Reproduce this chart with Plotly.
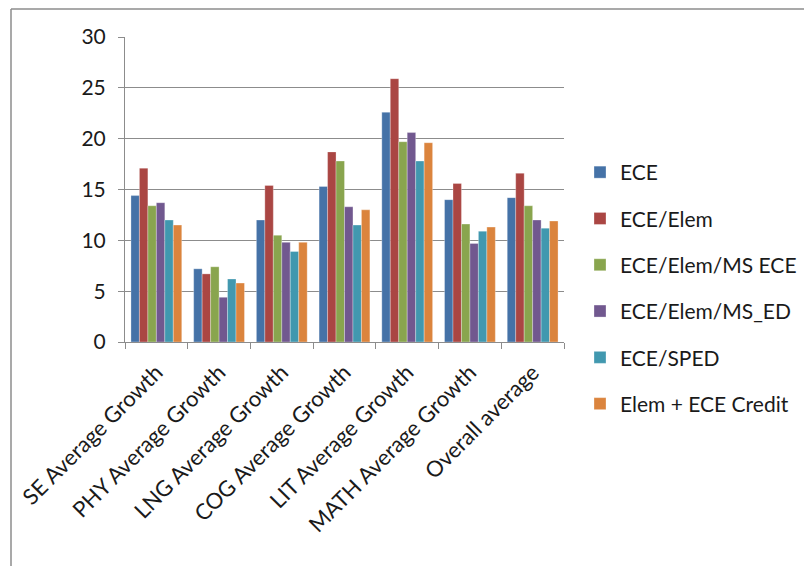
import plotly.graph_objects as go

categories = ["SE Average Growth", "PHY Average Growth", "LNG Average Growth",
              "COG Average Growth", "LIT Average Growth", "MATH Average Growth",
              "Overall average"]

series_names = ["ECE", "ECE/Elem", "ECE/Elem/MS ECE", "ECE/Elem/MS_ED",
                "ECE/SPED", "Elem + ECE Credit"]

ece = [14.4, 7.2, 12.0, 15.3, 22.6, 14.0, 14.2]
ece_elem = [17.1, 6.7, 15.4, 18.7, 25.9, 15.6, 16.6]
ece_elem_ms_ece = [13.4, 7.4, 10.5, 17.8, 19.7, 11.6, 13.4]
ece_elem_ms_ed = [13.7, 4.4, 9.8, 13.3, 20.6, 9.7, 12.0]
ece_sped = [12.0, 6.2, 8.9, 11.5, 17.8, 10.9, 11.2]
elem_ece_credit = [11.5, 5.8, 9.8, 13.0, 19.6, 11.3, 11.9]

colors = ["#4572A7", "#AA4643", "#89A54E", "#71588F", "#4198AF", "#DB843D"]

all_values = [ece, ece_elem, ece_elem_ms_ece, ece_elem_ms_ed, ece_sped, elem_ece_credit]

FONT = "Lato"
W, H = 804, 566
L, R, T, B = 125, 240, 37, 224
pw = W - L - R
ph = H - T - B

fig = go.Figure()
for name, vals, col in zip(series_names, all_values, colors):
    fig.add_trace(go.Bar(
        x=categories, y=vals, name=name, legendgroup=name,
        marker=dict(color=col, line=dict(width=0.6, color="rgba(255,255,255,0.5)")),
    ))

fig.update_layout(
    width=W, height=H,
    margin=dict(l=L, r=R, t=T, b=B, autoexpand=False),
    paper_bgcolor="white", plot_bgcolor="white",
    barmode="group", bargap=0.19, bargroupgap=0,
    font=dict(family=FONT, size=20, color="#1a1a1a"),
    legend=dict(xref="container", yref="container",
                x=580 / W, xanchor="left", y=1 - 288 / H, yanchor="middle",
                font=dict(family=FONT, size=21, color="#1a1a1a"),
                tracegroupgap=16, itemwidth=30, bgcolor="rgba(0,0,0,0)"),
    showlegend=True,
)
fig.update_yaxes(range=[0, 30], dtick=5, showgrid=True, gridcolor="#8c8c8c",
                 gridwidth=1, showline=True, linecolor="#8c8c8c", linewidth=1,
                 ticks="outside", ticklen=6, tickcolor="#8c8c8c",
                 ticklabelstandoff=8,
                 tickfont=dict(size=21), zeroline=False, fixedrange=True)
fig.update_xaxes(showline=True, linecolor="#8c8c8c", linewidth=1,
                 ticks="outside", ticklen=6, tickcolor="#8c8c8c",
                 tickson="boundaries", tickangle=-45, ticklabelstandoff=8,
                 tickfont=dict(size=22), fixedrange=True)

# outer chart border (top and left edges visible)
fig.add_shape(type="line", xref="paper", yref="paper",
              x0=(11 - L) / pw, x1=(W + 5 - L) / pw,
              y0=(H - B - 9) / ph, y1=(H - B - 9) / ph,
              line=dict(color="#8c8c8c", width=1.5))
fig.add_shape(type="line", xref="paper", yref="paper",
              x0=(11 - L) / pw, x1=(11 - L) / pw,
              y0=(H - B - 9) / ph, y1=(H - B - H - 5) / ph,
              line=dict(color="#8c8c8c", width=1.5))

fig.write_html("out.html")
